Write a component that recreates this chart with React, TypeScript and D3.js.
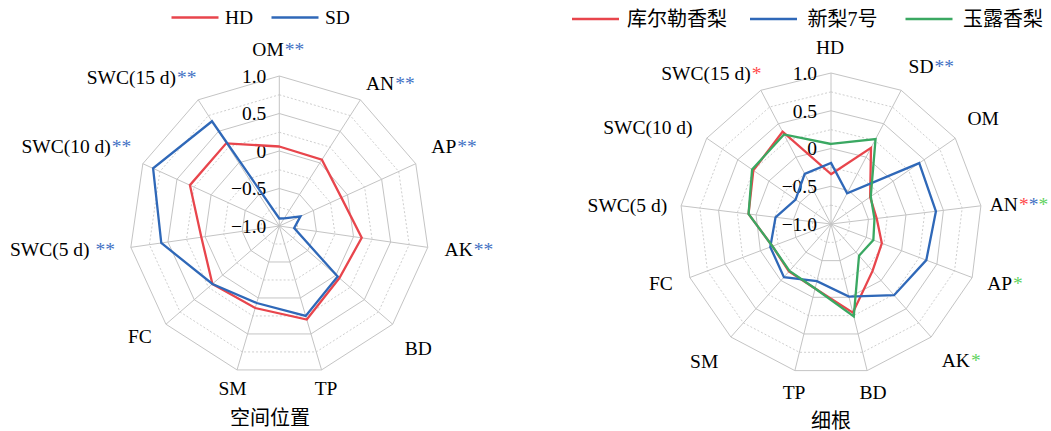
import React from "react";
import * as d3 from "d3";

// ---- data ----
const leftAxes = ["OM", "AN", "AP", "AK", "BD", "TP", "SM", "FC", "SWC(5 d) ", "SWC(10 d)", "SWC(15 d)"];
// significance marks per axis: [seriesIndex, mark]
const leftSig: [number, string][][] = [
  [[1, "**"]], [[1, "**"]], [[1, "**"]], [[1, "**"]], [], [], [], [], [[1, "**"]], [[1, "**"]], [[1, "**"]],
];
const leftNames = ["HD", "SD"];
const hdValues = [0.06, 0.05, -0.09, 0.11, 0.06, 0.30, 0.14, 0.18, 0.05, 0.31, 0.31];
const sdValues = [-0.90, -0.88, -0.69, -0.80, 0.03, 0.25, 0.07, 0.18, 0.59, 0.85, 0.66];

const rightAxes = ["HD", "SD", "OM", "AN", "AP", "AK", "BD", "TP", "SM", "FC", "SWC(5 d)", "SWC(10 d)", "SWC(15 d)"];
const rightSig: [number, string][][] = [
  [], [[1, "**"]], [], [[0, "*"], [1, "*"], [2, "*"]], [[2, "*"]], [[2, "*"]], [], [], [], [], [], [], [[0, "*"]],
];
const rightNames = ["库尔勒香梨", "新梨7号", "玉露香梨"];
const korlaValues = [-0.34, 0.14, -0.37, -0.39, -0.28, -0.17, 0.21, -0.12, -0.16, -0.17, 0.10, 0.25, 0.38];
const xinli7Values = [-0.19, -0.54, 0.42, 0.40, 0.35, 0.26, -0.01, -0.22, -0.06, -0.14, -0.26, -0.43, -0.25];
const yuluValues = [0.06, 0.27, -0.36, -0.42, -0.40, -0.44, 0.26, -0.12, -0.17, -0.17, 0.10, 0.27, 0.34];

const tickValues = [1.0, 0.5, 0, -0.5, -1.0];
const ringLevels = [-0.75, -0.5, -0.25, 0, 0.25, 0.5, 0.75, 1.0];

// ---- styling ----
const W = 1051;
const H = 431;
const lineColors = ["#e8454c", "#2f68b8", "#3aa862"];
const starColors = ["#ff4a4a", "#4472c4", "#5fd35f"];
const latinFont = "'Liberation Serif', 'Times New Roman', serif";
const cjkFont = "'Liberation Serif', 'Noto Sans CJK SC', serif";
const FS = 19.5;

// small nudges for axis label placement, [dx, dy]
const leftLabelNudge = [[-1, -11], [-3, -3], [1, -11], [1, 0], [0, 13], [0, 3], [0, 3], [-2, 1], [0, 0], [3, -11], [7, -9]];
const rightLabelNudge = [[-1, -10], [0, -10], [-1, -11], [-7, 0], [0, 0], [0, 11], [2, 6], [3, 6], [-2, 12], [-2, 0], [2, 1], [-1, -2], [8, -3]];

type RadarProps = {
  cx: number;
  cy: number;
  R: number;
  axes: string[];
  sig: [number, string][][];
  series: number[][];
  nudge: number[][];
  title: string;
  titleX: number;
  titleY: number;
  tickOffset: number;
};

function Radar({ cx, cy, R, axes, sig, series, nudge, title, titleX, titleY, tickOffset }: RadarProps) {
  const n = axes.length;
  const step = (2 * Math.PI) / n;
  const r = d3.scaleLinear().domain([-1, 1]).range([0, R]);
  const radial = d3
    .lineRadial<number>()
    .angle((_, i) => i * step)
    .radius((v) => r(v))
    .curve(d3.curveLinearClosed);
  const ring = (lv: number) => radial(axes.map(() => lv)) || "";

  return (
    <g>
      <g transform={`translate(${cx},${cy})`}>
        {ringLevels.map((lv) => {
          const major = Math.abs((lv * 2) % 1) < 1e-9;
          return (
            <path
              key={lv}
              d={ring(lv)}
              fill="none"
              stroke={major ? "#c4c4c4" : "#cfcfcf"}
              strokeWidth={1}
              strokeDasharray={major ? undefined : "2,2"}
            />
          );
        })}
        {axes.map((_, i) => {
          const a = i * step;
          return (
            <line
              key={i}
              x1={0}
              y1={0}
              x2={R * Math.sin(a)}
              y2={-R * Math.cos(a)}
              stroke="#c4c4c4"
              strokeWidth={1}
            />
          );
        })}
        {tickValues.map((t) => (
          <text
            key={t}
            x={-tickOffset}
            y={-r(t)}
            dy="0.35em"
            textAnchor="end"
            fontFamily={latinFont}
            fontSize={FS}
            fill="#000"
          >
            {t === 0 ? "0" : (t < 0 ? "\u2212" : "") + Math.abs(t).toFixed(1)}
          </text>
        ))}
        {series.map((vals, si) => (
          <path
            key={si}
            d={radial(vals) || ""}
            fill="none"
            stroke={lineColors[si]}
            strokeWidth={2.3}
            strokeLinejoin="miter"
          />
        ))}
      </g>
      {axes.map((name, i) => {
        const a = i * step;
        const s = Math.sin(a);
        const c = Math.cos(a);
        const rr = R + 16;
        const anchor = Math.abs(s) < 0.35 ? "middle" : s > 0 ? "start" : "end";
        const x = cx + rr * s + nudge[i][0];
        const y = cy - rr * c + nudge[i][1];
        return (
          <text
            key={name}
            x={x}
            y={y}
            dy="0.35em"
            textAnchor={anchor}
            fontFamily={latinFont}
            fontSize={FS}
            fill="#000"
          >
            {name}
            {sig[i].map(([si, mark], k) => (
              <tspan key={k} dx={k === 0 ? 1 : 0} fill={starColors[si]}>
                {mark}
              </tspan>
            ))}
          </text>
        );
      })}
      <text
        x={titleX}
        y={titleY}
        dy="0.35em"
        textAnchor="middle"
        fontFamily={cjkFont}
        fontSize={20}
        fill="#000"
      >
        {title}
      </text>
    </g>
  );
}

function Legend({ names, items }: { names: string[]; items: { x: number; tx: number }[] }) {
  return (
    <g>
      {names.map((name, i) => (
        <g key={name}>
          <line x1={items[i].x} x2={items[i].x + 47} y1={0} y2={0} stroke={lineColors[i]} strokeWidth={2.6} />
          <text x={items[i].tx} y={0} dy="0.35em" fontFamily={cjkFont} fontSize={name.length > 2 ? 20 : FS} fill="#000">
            {name}
          </text>
        </g>
      ))}
    </g>
  );
}

export default function App() {
  return (
    <svg
      width={W}
      height={H}
      viewBox={`0 0 ${W} ${H}`}
      style={{ position: "absolute", left: 0, top: 0, background: "#fff" }}
    >
      <rect width={W} height={H} fill="#fff" />
      <g transform="translate(0,17.5)">
        <Legend
          names={leftNames}
          items={[
            { x: 171.5, tx: 225 },
            { x: 271.5, tx: 325 },
          ]}
        />
      </g>
      <g transform="translate(0,19)">
        <Legend
          names={rightNames}
          items={[
            { x: 572, tx: 627 },
            { x: 750, tx: 807.5 },
            { x: 905.5, tx: 963 },
          ]}
        />
      </g>
      <Radar
        cx={279.3}
        cy={226}
        R={150}
        axes={leftAxes}
        sig={leftSig}
        series={[hdValues, sdValues]}
        nudge={leftLabelNudge}
        title="空间位置"
        titleX={270}
        titleY={418}
        tickOffset={13}
      />
      <Radar
        cx={831}
        cy={224}
        R={151}
        axes={rightAxes}
        sig={rightSig}
        series={[korlaValues, xinli7Values, yuluValues]}
        nudge={rightLabelNudge}
        title="细根"
        titleX={831}
        titleY={421}
        tickOffset={14}
      />
    </svg>
  );
}
